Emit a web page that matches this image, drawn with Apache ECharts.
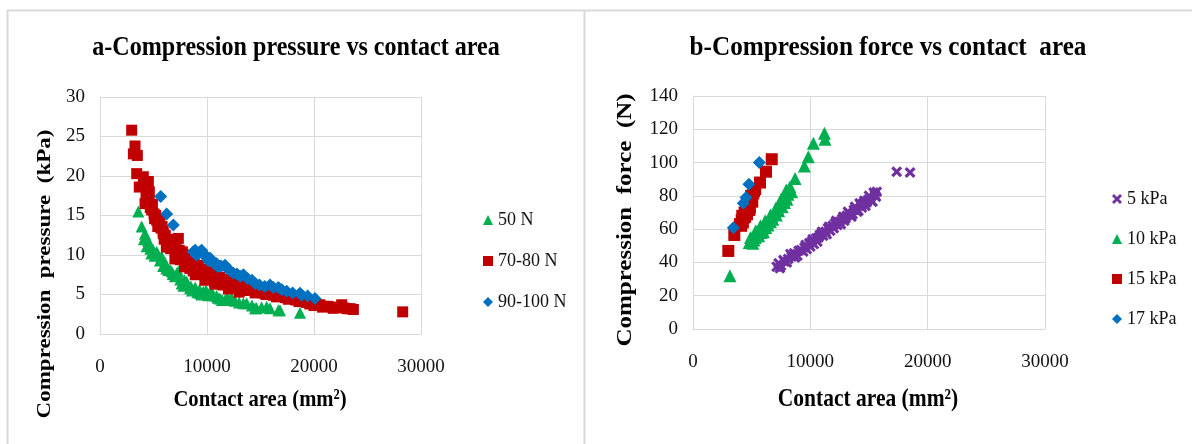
<!DOCTYPE html>
<html>
<head>
<meta charset="utf-8">
<script src="https://cdn.jsdelivr.net/npm/echarts@6/dist/echarts.min.js"></script>
<style>
  html, body { margin: 0; padding: 0; background: #fff; }
  #chart { width: 1192px; height: 444px; }
</style>
</head>
<body>
<div id="chart"></div>
<script>
// Panel a: compression pressure (kPa) against contact area (mm²)
const pressure50N = [
  [3580,15.5],[3890,13.6],[4200,12.7],[4360,11.1],[4500,11.8],[4700,10.8],[4980,10.6],
  [5400,10.1],[5760,9.8],[6390,8.1],[6540,8.1],[6800,7.6],[7170,7.7],[7320,7.9],
  [7630,6.4],[7900,6.8],[8200,6.2],[8410,5.8],[8500,6.0],[8800,5.6],[9350,5.15],
  [9300,5.6],[9650,5.35],[9810,5.15],[10280,5.35],[10440,5.15],[10900,4.8],[11210,4.5],
  [11680,4.3],[12150,4.3],[12300,4.5],[13400,3.9],[13710,3.9],[14490,3.25],[14640,3.25],
  [15580,3.45],[15890,3.25],[16670,3.0],[16820,3.0],[18690,2.7],
  [4100,12.0],[4600,11.4],[4800,10.2],[5100,9.9],[5300,10.4],[5600,9.3],[5900,8.6],
  [6100,9.0],[6200,8.3],[6700,7.9],[7000,7.3],[7500,6.9],[7800,6.1],[8100,6.6],
  [8600,5.5],[8900,5.9],[9100,5.3],[9500,5.0],[9900,5.5],[10100,4.9],[10600,4.9],
  [11000,4.6],[11400,4.3],[11900,4.6],[12600,4.2],[13000,4.0],[14200,3.6],[15100,3.4]
];
const pressure70to80N = [
  [2960,25.8],[3270,23.8],[3120,22.8],[3490,22.6],[3430,20.3],[4050,19.9],[4520,19.3],
  [3670,18.6],[4610,18.0],[4210,16.5],[4400,17.2],[4700,16.0],[4830,15.7],[5050,15.2],
  [5300,14.4],[5200,15.0],[5500,14.0],[5700,13.4],[5920,12.7],[5800,13.6],[6100,12.5],
  [6300,12.0],[6500,11.8],[6700,11.5],[7320,12.1],[6900,10.9],[7170,10.2],[7400,10.6],
  [7600,9.8],[7800,10.0],[8100,9.4],[8300,9.0],[8600,8.7],[8800,8.9],[9040,8.5],
  [9300,8.0],[9500,7.6],[9970,7.25],[10200,7.6],[10500,7.0],[10800,7.2],[11000,6.7],
  [11400,6.9],[11800,6.4],[12200,6.6],[12600,6.1],[13080,6.4],[13500,5.8],[13900,6.0],
  [14300,5.5],[14800,5.6],[15200,5.2],[15700,5.3],[16200,4.9],[16820,4.9],[17300,4.6],
  [17800,4.5],[18300,4.3],[18800,4.2],[19300,4.0],[19800,3.9],[20250,3.7],[20560,3.7],
  [21000,3.5],[21800,3.25],[22200,3.4],[22590,3.7],[23100,3.2],[23680,3.1],[28290,2.8],
  [6200,11.0],[7000,9.5],[7900,8.5],[8900,7.5],[9800,6.8],[10800,6.3],[12000,5.7],[13000,5.3],
  [4300,17.8],[4600,16.8],[4900,16.4],[5100,14.6],[5400,13.6],[5600,14.6],[5900,13.0],
  [6000,12.0],[6400,11.2],[6600,10.8],[6800,11.9],[7100,11.0],[7300,10.0],[7500,9.4],
  [7700,10.4],[8000,9.0],[8200,9.8],[8400,8.3],[8500,9.2],[8700,8.0],[9100,7.8],
  [9200,8.7],[9600,8.2],[10000,7.9],[10100,6.9],[10400,7.4],[10700,6.6],[11200,7.2],
  [11500,6.2],[11900,6.8],[12400,5.9],[12800,6.5],[13300,6.0],[13700,5.5],[14100,5.8],
  [14500,5.2],[15000,5.5],[15500,5.0],[16000,5.2],[16500,4.7],[17000,4.8],[17600,4.4],
  [18100,4.6],[18600,4.1],[19100,4.2],[19600,3.8],[20000,3.6],[20800,3.4],[21300,3.5],
  [22800,3.3],[23400,3.2]
];
const pressure90to100N = [
  [5670,17.4],[6230,15.2],[6850,13.8],[8720,10.4],[9000,10.0],[9350,10.4],[9500,10.6],
  [9970,9.8],[10300,9.6],[10900,8.9],[11300,8.6],[11680,8.7],[12100,8.1],[12460,7.7],
  [13400,7.5],[13800,7.0],[14490,6.4],[14900,6.2],[15890,6.2],[16670,5.9],[17450,5.4],
  [18690,5.15],[18850,4.9],[20090,4.5],
  [8900,10.6],[9200,10.2],[9700,10.0],[10100,9.3],[10600,9.0],[11000,8.5],[11900,8.3],
  [12800,7.6],[13100,7.3],[14200,6.8],[15400,6.0],[16200,5.9],[17000,5.6],[18000,5.2],
  [19400,4.8]
];

// Panel b: compression force (N) against contact area (mm²)
const force5kPa = [
  [7130,37.4],[7300,39.5],[7500,38.0],[7800,40.5],[8100,42.0],[8400,43.5],[8600,45.5],
  [8900,44.0],[9200,47.5],[9500,49.0],[9700,48.0],[9900,51.5],[10100,52.5],[10300,51.0],
  [10500,54.5],[10700,55.0],[10900,57.0],[11100,56.0],[11300,58.5],[11500,60.5],[11700,59.0],
  [11900,62.0],[12100,63.5],[12300,62.5],[12500,64.5],[12700,66.0],[12900,65.0],[13100,68.0],
  [13300,69.5],[13500,67.5],[13700,71.5],[13900,72.5],[14100,71.0],[14300,74.5],[14500,75.5],
  [14700,74.0],[14900,77.5],[15100,78.5],[15300,76.5],[15500,80.5],[15660,82.5],[15400,82.0],
  [17360,94.5],[18500,94.0],
  [7400,36.5],[7700,41.5],[8000,40.0],[8300,45.0],[8700,43.0],[9000,47.0],[9400,46.5],
  [9600,50.5],[10000,49.5],[10200,54.0],[10600,52.5],[10800,56.5],[11000,58.5],[11400,57.0],
  [11600,61.5],[12000,60.5],[12200,65.0],[12600,63.0],[12800,67.5],[13000,66.5],[13200,70.5],
  [13600,69.0],[13800,73.5],[14000,70.5],[14200,75.5],[14400,73.0],[14600,77.0],[14800,76.0],
  [15000,80.0],[15200,77.0],[15600,79.5]
];
const force10kPa = [
  [3150,32],[4800,52],[5000,54],[5100,51.5],[5300,55],[5500,57.5],[5600,56],[5700,59],
  [5900,60.5],[6000,58.5],[6100,62],[6300,64],[6400,62.5],[6500,66],[6700,67.5],[6800,66],
  [6900,69.5],[7000,71],[7200,72.5],[7300,71],[7400,74.5],[7500,76],[7700,77.5],[7800,76],
  [7900,79.5],[8100,81],[8270,85.5],[8700,90.5],[9490,98],[9830,103.5],[10260,111.6],
  [11200,117.6],[11250,114],
  [4900,55],[5200,53.5],[5400,56],[5800,58],[6200,61],[6600,64.5],[7100,68.5],[7600,73.5],
  [8000,78],[8200,83],[8400,82.5],[5350,59],[5750,62],[6150,65],[6600,68.5],[7050,72.5],
  [7500,78],[7950,83.5]
];
const force15kPa = [
  [3010,46.9],[3520,56.5],[4000,63],[4150,65.5],[4200,68],[4350,67],[4400,70],[4550,72],
  [4700,74],[4800,71.5],[4900,77],[5000,79],[5140,81.5],[5300,84],[5710,88],[6220,94.5],
  [6710,102],
  [4100,62],[4250,64],[4450,67.5],[4600,69],[4750,76],[4850,73],[4950,80],[5050,76.5],[5200,83]
];
const force17kPa = [
  [3440,60.9],[4290,75.5],[4520,79],[4770,87],[5650,100]
];

const seriesNamesA = ['50 N', '70-80 N', '90-100 N'];
const seriesNamesB = ['5 kPa', '10 kPa', '15 kPa', '17 kPa'];
const titleA = 'a-Compression pressure vs contact area';
const titleB = 'b-Compression force vs contact  area';
const xAxisName = 'Contact area (mm²)';
const yAxisNameA = 'Compression  pressure  (kPa)';
const yAxisNameB = 'Compression  force  (N)';

const GREEN = '#00B050', RED = '#C00000', BLUE = '#0070C0', PURPLE = '#7030A0';
const SERIF = '"Liberation Serif", "Times New Roman", serif';
const GRID_GRAY = '#d9d9d9';
const CROSS = 'path://M0,2 L2,0 L5,3 L8,0 L10,2 L7,5 L10,8 L8,10 L5,7 L2,10 L0,8 L3,5 Z';
const NARROW = 0.86;   // condensed look of the heading type

function valueAxis(gridIndex, min, max, interval, isX) {
  return {
    type: 'value', gridIndex, min, max, interval,
    axisLine: { show: true, lineStyle: { color: GRID_GRAY } },
    axisTick: { show: false },
    axisLabel: {
      fontFamily: SERIF, fontSize: 19, color: '#111', margin: isX ? 24 : 15,
      formatter: v => String(v)
    },
    splitLine: { show: true, lineStyle: { color: GRID_GRAY, width: 1 } }
  };
}

function scatter(name, data, xi, yi, symbol, size, color) {
  return {
    name, type: 'scatter', xAxisIndex: xi, yAxisIndex: yi, data,
    symbol, symbolSize: size,
    itemStyle: { color, opacity: 1 },
    emphasis: { disabled: true }
  };
}

// bold heading text, optionally rotated for the vertical axis names
function heading(text, x, y, size, rotated, squeeze) {
  return {
    type: 'text', x, y,
    rotation: rotated ? Math.PI / 2 : 0,
    scaleX: rotated ? 1 : squeeze,
    scaleY: rotated ? squeeze : 1,
    silent: true,
    style: {
      text, fill: '#000',
      font: 'bold ' + size + 'px ' + SERIF,
      textAlign: 'center', textVerticalAlign: 'middle'
    }
  };
}

const chart = echarts.init(document.getElementById('chart'), null, { renderer: 'canvas' });

chart.setOption({
  backgroundColor: '#ffffff',
  animation: false,
  grid: [
    { left: 100, top: 97, width: 321, height: 237 },
    { left: 693, top: 96, width: 352, height: 233 }
  ],
  xAxis: [
    valueAxis(0, 0, 30000, 10000, true),
    valueAxis(1, 0, 30000, 10000, true)
  ],
  yAxis: [
    valueAxis(0, 0, 30, 5, false),
    valueAxis(1, 0, 140, 20, false)
  ],
  legend: [
    { data: seriesNamesA, orient: 'vertical', left: 478, top: 206, itemGap: 23,
      itemWidth: 10, itemHeight: 10,
      textStyle: { fontFamily: SERIF, fontSize: 18, color: '#111' } },
    { data: seriesNamesB, orient: 'vertical', left: 1107, top: 185, itemGap: 22,
      itemWidth: 10, itemHeight: 10,
      textStyle: { fontFamily: SERIF, fontSize: 18, color: '#111' } }
  ],
  series: [
    scatter(seriesNamesA[0], pressure50N, 0, 0, 'triangle', 12, GREEN),
    scatter(seriesNamesA[1], pressure70to80N, 0, 0, 'rect', 11, RED),
    scatter(seriesNamesA[2], pressure90to100N, 0, 0, 'diamond', 13, BLUE),
    scatter(seriesNamesB[0], force5kPa, 1, 1, CROSS, 11, PURPLE),
    scatter(seriesNamesB[1], force10kPa, 1, 1, 'triangle', 13, GREEN),
    scatter(seriesNamesB[2], force15kPa, 1, 1, 'rect', 12, RED),
    scatter(seriesNamesB[3], force17kPa, 1, 1, 'diamond', 13, BLUE)
  ],
  graphic: [
    // panel frames
    { type: 'line', silent: true, shape: { x1: 7, y1: 10.5, x2: 1192, y2: 10.5 }, style: { stroke: GRID_GRAY, lineWidth: 2 } },
    { type: 'line', silent: true, shape: { x1: 7.5, y1: 10, x2: 7.5, y2: 444 }, style: { stroke: GRID_GRAY, lineWidth: 2 } },
    { type: 'line', silent: true, shape: { x1: 584.5, y1: 10, x2: 584.5, y2: 444 }, style: { stroke: GRID_GRAY, lineWidth: 2 } },
    // chart titles
    heading(titleA, 296, 48, 28, false, NARROW),
    heading(titleB, 888, 48, 28, false, 0.9),
    // axis names
    heading(xAxisName, 260, 400, 24, false, NARROW),
    heading(xAxisName, 868, 400, 25, false, NARROW),
    heading(yAxisNameA, 45, 274, 23, true, NARROW),
    heading(yAxisNameB, 625, 220, 25, true, NARROW)
  ]
});
</script>
</body>
</html>
